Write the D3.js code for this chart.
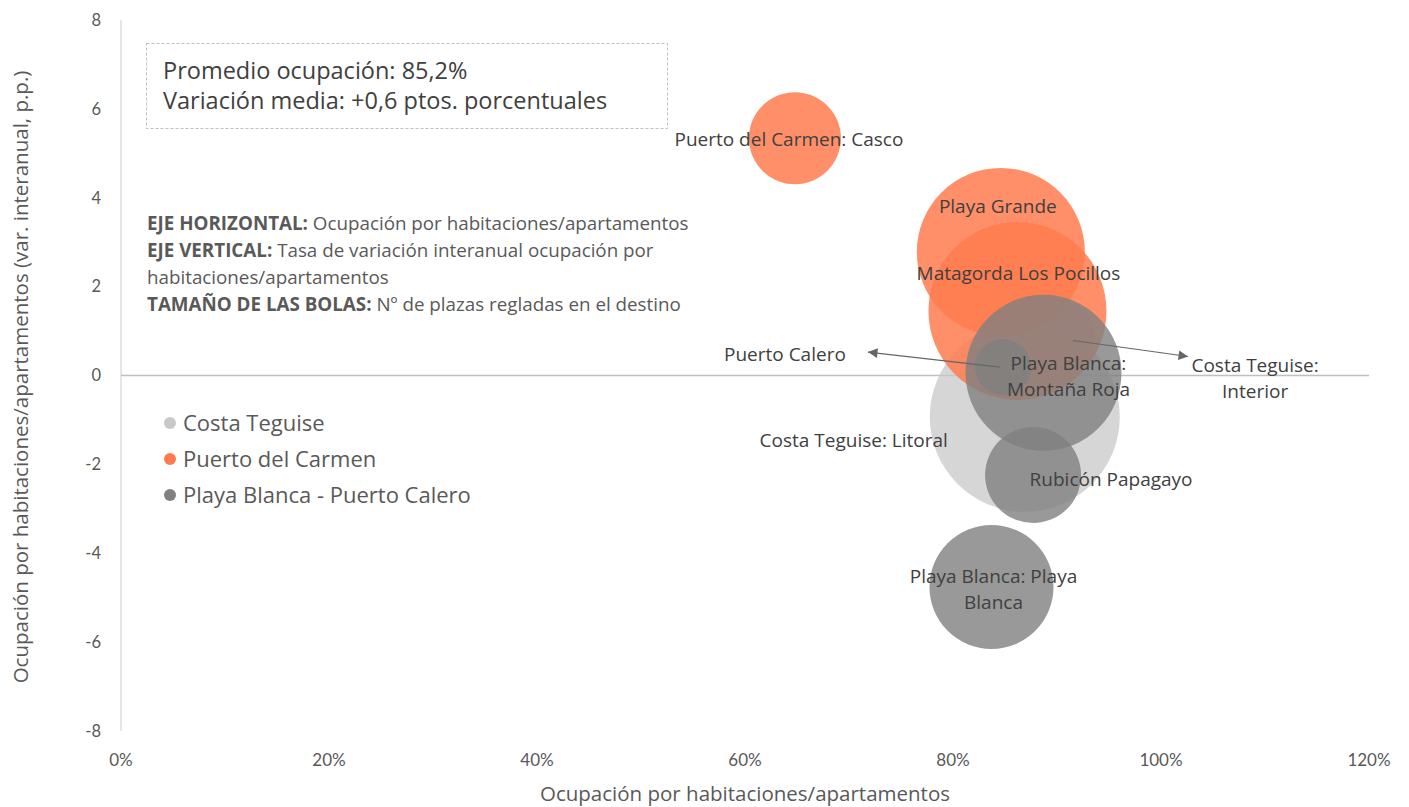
<!DOCTYPE html>
<html>
<head>
<meta charset="utf-8">
<script src="https://cdn.jsdelivr.net/npm/d3@7"></script>
<style>
  body { margin: 0; background: #fff; }
  svg { display: block; font-family: "Open Sans", Lato, sans-serif; }
</style>
</head>
<body>
<svg id="chart" width="1409" height="807"></svg>
<script>
      // series (drawing order = Excel series order)
      const seriesNames = ["Costa Teguise", "Puerto del Carmen", "Playa Blanca - Puerto Calero"];
      const seriesColors = ["#c8c8c8", "#ff7b4f", "#808080"];
      const seriesOpacity = [0.75, 0.85, 0.8];

      // destinations
      const destNames = [
        "Costa Teguise: Interior", "Costa Teguise: Litoral",
        "Puerto del Carmen: Casco", "Playa Grande", "Matagorda Los Pocillos",
        "Puerto Calero", "Playa Blanca: Montaña Roja", "Rubicón Papagayo", "Playa Blanca: Playa Blanca"
      ];
      const destSeries = [0, 0, 1, 1, 1, 2, 2, 2, 2];
      const ocupacion = [0.903, 0.869, 0.648, 0.846, 0.862, 0.848, 0.887, 0.877, 0.837];
      const variacion = [0.9, -0.93, 5.34, 2.78, 1.45, 0.19, 0.06, -2.24, -4.76];
      const plazas = [2700, 20000, 4690, 15640, 17550, 1740, 13480, 5100, 8520];

      const xTicks = [0, 0.2, 0.4, 0.6, 0.8, 1.0, 1.2];
      const yTicks = [-8, -6, -4, -2, 0, 2, 4, 6, 8];

      // label lines and offsets from bubble centre (layout only)
      const labelLines = [
        ["Costa Teguise:", "Interior"], ["Costa Teguise: Litoral"],
        ["Puerto del Carmen: Casco"], ["Playa Grande"], ["Matagorda Los Pocillos"],
        ["Puerto Calero"], ["Playa Blanca:", "Montaña Roja"], ["Rubicón Papagayo"], ["Playa Blanca: Playa", "Blanca"]
      ];
      const labelOffsets = [[195, 43], [-171, 24], [-6, 1], [-3, -46], [1, -38], [-218, -13], [25, 4], [78, 4], [2, 2]];
      const arrowFrom = [[13, 5], null, null, null, null, [-3, 0], null, null, null];
      const arrowTo = [[128, 21], null, null, null, null, [-135, -15], null, null, null];

      const svg = d3.select("#chart");
      const x = d3.scaleLinear().domain([0, 1.2]).range([121, 1369]);
      const y = d3.scaleLinear().domain([-8, 8]).range([731, 20]);
      const r = d3.scaleSqrt().domain([0, d3.max(plazas)]).range([0, 95]);
      const textColor = "#595959";

      svg.append("defs").append("marker")
        .attr("id", "arrow").attr("viewBox", "0 0 10 10").attr("refX", 10).attr("refY", 5)
        .attr("markerWidth", 9).attr("markerHeight", 8).attr("orient", "auto-start-reverse")
        .append("path").attr("d", "M0,0L10,5L0,10z").attr("fill", "#666");

      // axes lines
      svg.append("line").attr("x1", x(0)).attr("x2", x(0)).attr("y1", y(8)).attr("y2", y(-8))
        .attr("stroke", "#d9d9d9").attr("stroke-width", 1.3);
      svg.append("line").attr("x1", x(0)).attr("x2", x(1.2)).attr("y1", y(0)).attr("y2", y(0))
        .attr("stroke", "#bfbfbf").attr("stroke-width", 1.3);

      // tick labels
      svg.append("g").selectAll("text").data(yTicks).join("text")
        .attr("x", 101).attr("y", (d) => y(d)).attr("dy", "0.35em").attr("text-anchor", "end")
        .attr("font-family", "Lato").attr("font-size", 16.5).attr("fill", textColor).text((d) => d);
      svg.append("g").selectAll("text").data(xTicks).join("text")
        .attr("x", (d) => x(d)).attr("y", 760).attr("dy", "0.35em").attr("text-anchor", "middle")
        .attr("font-family", "Lato").attr("font-size", 17).attr("fill", textColor).text((d) => d3.format(".0%")(d));

      // axis titles
      svg.append("text").attr("x", 745).attr("y", 794).attr("dy", "0.35em").attr("text-anchor", "middle")
        .attr("font-size", 20.5).attr("fill", textColor).text("Ocupación por habitaciones/apartamentos");
      svg.append("text").attr("transform", "translate(21,377) rotate(-90)").attr("dy", "0.35em")
        .attr("text-anchor", "middle").attr("font-size", 20.5).attr("fill", textColor)
        .text("Ocupación por habitaciones/apartamentos (var. interanual, p.p.)");

      // bubbles
      const idx = d3.range(destNames.length).sort((a, b) => destSeries[a] - destSeries[b]);
      svg.append("g").selectAll("circle").data(idx).join("circle")
        .attr("cx", (i) => x(ocupacion[i])).attr("cy", (i) => y(variacion[i])).attr("r", (i) => r(plazas[i]))
        .attr("fill", (i) => seriesColors[destSeries[i]]).attr("fill-opacity", (i) => seriesOpacity[destSeries[i]]);

      // leader arrows
      d3.range(destNames.length).filter((i) => arrowFrom[i]).forEach((i) => {
        const cx = x(ocupacion[i]), cy = y(variacion[i]);
        svg.append("line")
          .attr("x1", cx + arrowFrom[i][0]).attr("y1", cy + arrowFrom[i][1])
          .attr("x2", cx + arrowTo[i][0]).attr("y2", cy + arrowTo[i][1])
          .attr("stroke", "#666").attr("stroke-width", 1.2).attr("marker-end", "url(#arrow)");
      });

      // data labels
      d3.range(destNames.length).forEach((i) => {
        const cx = x(ocupacion[i]) + labelOffsets[i][0], cy = y(variacion[i]) + labelOffsets[i][1];
        const lines = labelLines[i];
        const t = svg.append("text").attr("text-anchor", "middle").attr("font-size", 19).attr("fill", "#404040");
        lines.forEach((line, k) => {
          t.append("tspan").attr("x", cx).attr("y", cy + (k - (lines.length - 1) / 2) * 26).attr("dy", "0.35em").text(line);
        });
      });

      // summary box
      svg.append("rect").attr("x", 146.5).attr("y", 43.5).attr("width", 521).attr("height", 85)
        .attr("fill", "none").attr("stroke", "#bfbfbf").attr("stroke-dasharray", "3,2");
      svg.append("text").attr("x", 163).attr("y", 71).attr("dy", "0.35em").attr("font-size", 23.5).attr("fill", "#404040")
        .text("Promedio ocupación: 85,2%");
      svg.append("text").attr("x", 163).attr("y", 101).attr("dy", "0.35em").attr("font-size", 23.5).attr("fill", "#404040")
        .text("Variación media: +0,6 ptos. porcentuales");

      // explanatory note
      const noteLines = [
        ["EJE HORIZONTAL:", " Ocupación por habitaciones/apartamentos"],
        ["EJE VERTICAL:", " Tasa de variación interanual ocupación por"],
        ["", "habitaciones/apartamentos"],
        ["TAMAÑO DE LAS BOLAS:", " Nº de plazas regladas en el destino"]
      ];
      noteLines.forEach((l, k) => {
        const t = svg.append("text").attr("x", 147).attr("y", 223 + k * 27).attr("dy", "0.35em")
          .attr("font-size", 18.8).attr("fill", textColor);
        if (l[0]) t.append("tspan").attr("font-weight", "bold").text(l[0]);
        t.append("tspan").text(l[1]);
      });

      // legend
      const legend = svg.append("g").selectAll("g").data(seriesNames).join("g")
        .attr("transform", (d, i) => `translate(170,${423 + i * 36})`);
      legend.append("circle").attr("r", 6).attr("fill", (d, i) => seriesColors[i]);
      legend.append("text").attr("x", 13).attr("dy", "0.35em").attr("font-size", 22).attr("fill", textColor).text((d) => d);
</script>
</body>
</html>
